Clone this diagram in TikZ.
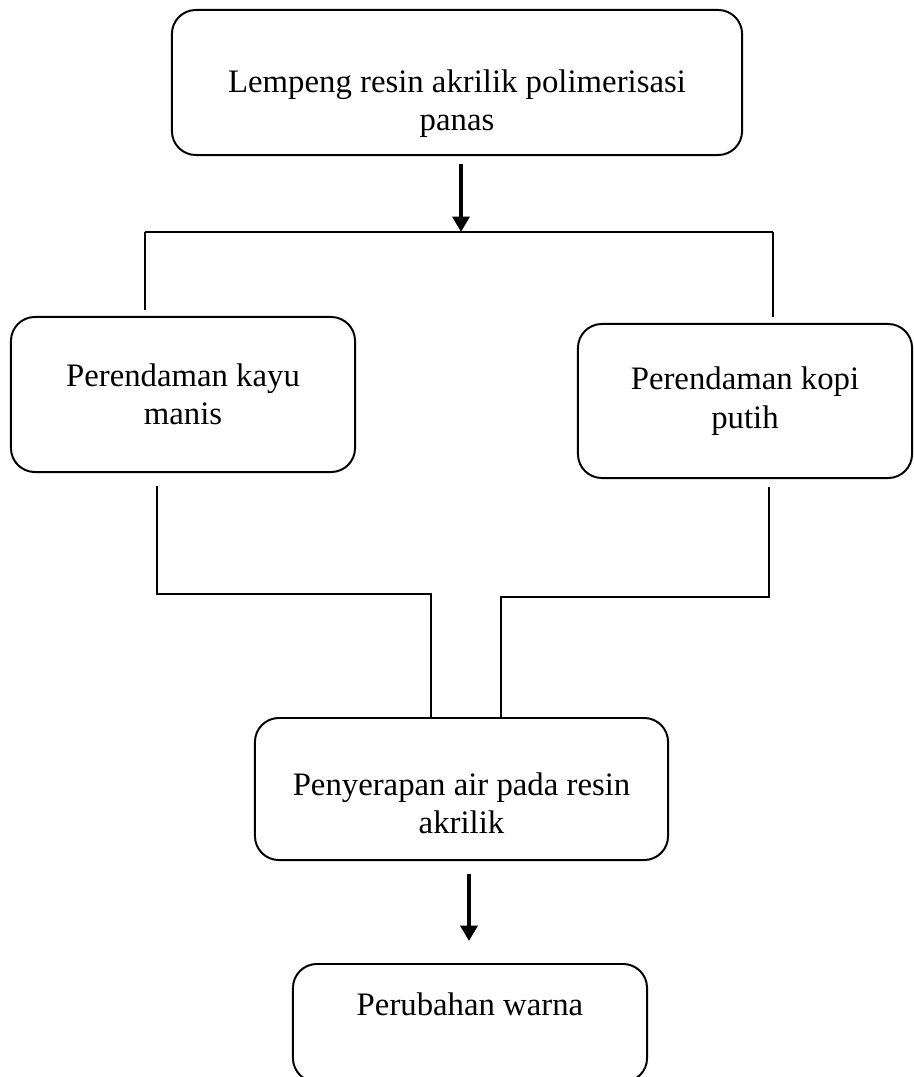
\documentclass[tikz,border=0pt]{standalone}
\usepackage{fontspec}
\setmainfont{Liberation Serif}
\usetikzlibrary{arrows.meta}

\begin{document}
\begin{tikzpicture}[x=0.025cm,y=-0.025cm,font=\fontsize{23.3}{27.2}\selectfont,
      box/.style={draw,rounded corners=17pt,line width=1.4pt,align=center,inner sep=0pt},
      link/.style={line width=0.8pt},
      flow/.style={line width=2.8pt,-{Triangle[length=11pt,width=12pt]}}]
    \useasboundingbox (0,0) rectangle (913,1077);

    \node[box,minimum width=14.25cm,minimum height=3.625cm] (lempeng) at (457,82.5) {\strut\\Lempeng resin akrilik polimerisasi\\panas};
    \node[box,minimum width=8.6cm,minimum height=3.875cm] (kayu) at (183,394.5) {Perendaman kayu\\manis};
    \node[box,minimum width=8.35cm,minimum height=3.85cm] (kopi) at (745,401) {Perendaman kopi\\putih};
    \node[box,minimum width=10.325cm,minimum height=3.55cm] (serap) at (461.5,789) {\rule{0pt}{9.5pt}\\Penyerapan air pada resin\\akrilik};
    \node[box,minimum width=8.85cm,minimum height=2.95cm] (warna) at (470,1023) {Perubahan warna\\~};

    \coordinate (split) at (461,232);
    \coordinate (jl) at (145,232);
    \coordinate (jr) at (773,232);
    \coordinate (kl) at (157,594);
    \coordinate (kr) at (431,594);
    \coordinate (pl) at (501,597);
    \coordinate (pr) at (769,597);
    \coordinate (low) at (469,941);

    \draw[flow,shorten <=5.5pt] (lempeng.south -| split) -- (split);
    \draw[link] (jl) -- (jr);
    \foreach \j/\b in {jl/kayu,jr/kopi}
      \draw[link,shorten >=4pt] (\j) -- (\j |- \b.north);
    \draw[link,shorten <=9pt] (kayu.south -| kl) -- (kl) -- (kr) -- (kr |- serap.north);
    \draw[link,shorten <=6pt] (kopi.south -| pr) -- (pr) -- (pl) -- (pl |- serap.north);
    \draw[flow,shorten <=9pt] (serap.south -| low) -- (low);
  \end{tikzpicture}
\end{document}
